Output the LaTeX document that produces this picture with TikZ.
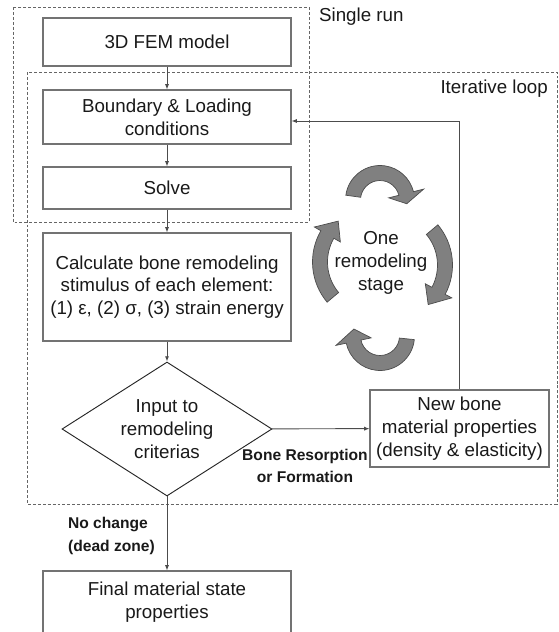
\documentclass[tikz,border=0pt]{standalone}
\usepackage{fontspec}
\setmainfont{Liberation Sans}
\usetikzlibrary{shapes.geometric,arrows.meta}

\newcommand{\cyclearrow}[7]{%
\filldraw[turn,shift={(#1)}] ({#3}:{#2+#6}) arc[start angle=#3,end angle=#4,radius=#2+#6]
  -- ({#4}:{#2+#7}) -- ({#5}:{#2}) -- ({#4}:{#2-#7})
  -- ({#4}:{#2-#6}) arc[start angle=#4,end angle=#3,radius=#2-#6] -- cycle;}

\begin{document}
\begin{tikzpicture}[x=0.3mm,y=0.3mm,
  every node/.style={font=\fontsize{16}{19.5}\selectfont,text=black!90},
  stage/.style={rectangle,draw=black!55,line width=0.9pt,minimum width=74.4mm,align=center,inner sep=0},
  decision/.style={diamond,draw=black!85,line width=0.8pt,aspect=1.57,minimum width=63mm,minimum height=40.2mm,align=center,inner sep=0},
  pathlabel/.style={font=\fontsize{13.3}{19.5}\selectfont\bfseries,align=center},
  link/.style={draw=black!70,line width=0.8pt,-{Latex[length=4.5pt,width=3.5pt]}},
  runbox/.style={draw=black!60,line width=0.8pt,dash pattern=on 2.5pt off 1.7pt},
  turn/.style={fill=black!50,draw=black!70,line width=0.6pt}]

\useasboundingbox (0,0) rectangle (559,-632);

\draw[runbox] (13,-7) rectangle (309,-222);
\draw[runbox] (27,-72) rectangle (557,-504);

\node[anchor=west] (single) at (315,-17) {Single run};
\node[anchor=east] (iter) at (552,-89) {Iterative loop};

\node[stage,minimum height=14.4mm] (fem) at (167,-42) {3D FEM model};
\node[stage,minimum height=16.2mm] (bound) at (167,-117) {Boundary \& Loading\\conditions};
\node[stage,minimum height=12.6mm] (solve) at (167,-188) {Solve};
\node[stage,minimum height=32.4mm] (calc) at (167,-287) {Calculate bone remodeling\\stimulus of each element:\\(1) ε, (2) σ, (3) strain energy};
\node[decision] (crit) at (167,-429) {Input to\\remodeling\\criterias};
\node[stage,minimum width=53.7mm,minimum height=23.1mm] (newb) at (459.5,-428.5) {New bone\\material properties\\(density \& elasticity)};
\node[stage,minimum height=18.6mm] (final) at (167,-602) {Final material state\\properties};

\node[pathlabel] (resorb) at (305,-466) {Bone Resorption\\or Formation};
\node[pathlabel,anchor=west,align=left] (nochange) at (64,-536) {No change\\(dead zone)};

\draw[link] (fem) -- (bound);
\draw[link] (bound) -- (solve);
\draw[link] (solve) -- (calc);
\draw[link] (calc) -- (crit);
\draw[link] (crit) -- (final);
\draw[link] (crit) -- (newb);
\draw[link] (newb.north) |- ([yshift=-1.2mm]bound.east);

\node[align=center] (onestage) at (381,-263) {One\\remodeling\\stage};

\cyclearrow{380,-200}{27}{172}{14}{-8}{7.5}{18}
\cyclearrow{390,-265}{55}{40}{-28}{-46}{7.5}{15}
\cyclearrow{380,-336}{27}{-6}{-168}{-195}{7.5}{18}
\cyclearrow{375,-262}{55}{220}{150}{132}{7.5}{15}

\end{tikzpicture}
\end{document}
